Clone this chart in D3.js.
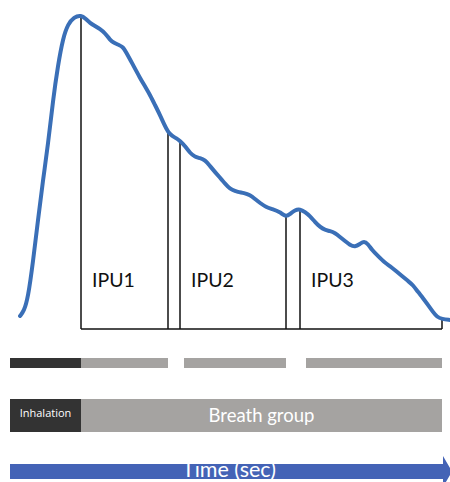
<!DOCTYPE html>
<html><head><meta charset="utf-8">
<script src="https://cdn.jsdelivr.net/npm/d3@7"></script>
<style>html,body{margin:0;padding:0;background:#fff;}svg{display:block;}</style>
</head><body>
<script>
// Time (arbitrary units) and airflow amplitude of the breath curve
const curveTime = [10,14,18,23,28,33,38,43,48,53,58,64,71,76,80,85,90,95,100,104,109,113,116,122,130,136,140,145,150,154,158,162,166,170,175,180,185,190,195,200,205,212,218,222,228,234,240,245,250,256,262,270,276,280,285,290,295,300,305,310,315,320,325,330,335,340,345,350,354,358,362,368,375,380,386,392,398,403,408,413,418,423,427,432,440];
const curveAmp  = [13,18,31,67,109,149,184,229,264,291,305,312,314,310,306,303,300,296,289,286,284,282,277,266,251,241,234,224,214,205,197,193,191,188,183,176,172,171,169,163,157,149,142,139,137,136,134,130,126,122,120,117,112,115,119,120,117,113,107,102,99,98,96,92,88,84,82,85,88,85,79,73,66,63,58,53,48,44,37,31,24,17,12,10,9];
// Segment boundaries (same time units)
const inhalationEnd = 71;
const ipuLabels = ["IPU1","IPU2","IPU3"];
const ipuStart = [71,170,290];
const ipuEnd   = [158,276,432];
const ipuBarStart = [71,174,296];
const breathGroupLabel = "Breath group";
const inhalationLabel = "Inhalation";
const timeLabel = "Time (sec)";

const W = 450, H = 482;
const svg = d3.select("body").append("svg").attr("width", W).attr("height", H);
const x = d3.scaleLinear().domain([0, 440]).range([10, 450]);
const y = d3.scaleLinear().domain([0, 320]).range([329, 9]);

const interp = t => {
  for (let i = 1; i < curveTime.length; i++) {
    if (curveTime[i] >= t) {
      const f = (t - curveTime[i-1]) / (curveTime[i] - curveTime[i-1]);
      return curveAmp[i-1] + f * (curveAmp[i] - curveAmp[i-1]);
    }
  }
  return curveAmp[curveAmp.length-1];
};

// baseline
svg.append("line").attr("x1", x(ipuStart[0])).attr("x2", x(ipuEnd[2]))
  .attr("y1", y(0)).attr("y2", y(0)).attr("stroke", "#111").attr("stroke-width", 1.5);

// vertical boundary lines
const bounds = [];
ipuStart.forEach((s, i) => { bounds.push(s); bounds.push(ipuEnd[i]); });
svg.selectAll("line.b").data(bounds).join("line").attr("class", "b")
  .attr("x1", d => x(d)).attr("x2", d => x(d))
  .attr("y1", y(0)).attr("y2", d => y(interp(d)))
  .attr("stroke", "#111").attr("stroke-width", 1.5);

// IPU labels
svg.selectAll("text.ipu").data(ipuLabels).join("text").attr("class", "ipu")
  .attr("x", (d, i) => x(ipuStart[i]) + 11).attr("y", 287)
  .attr("font-family", "Lato, 'Open Sans', sans-serif").attr("font-size", 19.5)
  .attr("fill", "#111").text(d => d);

// curve
const line = d3.line().x((d, i) => x(curveTime[i])).y(d => y(d)).curve(d3.curveBasis);
svg.append("path").datum(curveAmp).attr("d", line)
  .attr("fill", "none").attr("stroke", "#3a6fb7").attr("stroke-width", 4)
  .attr("stroke-linecap", "round").attr("stroke-linejoin", "round");

// row 1: IPU bars
svg.append("rect").attr("x", x(0)).attr("y", 358).attr("width", x(inhalationEnd) - x(0)).attr("height", 10).attr("fill", "#333333");
svg.selectAll("rect.ipub").data(ipuBarStart).join("rect").attr("class", "ipub")
  .attr("x", d => x(d)).attr("y", 358)
  .attr("width", (d, i) => x(ipuEnd[i]) - x(d)).attr("height", 10).attr("fill", "#a5a3a1");

// row 2: inhalation / breath group
svg.append("rect").attr("x", x(0)).attr("y", 399).attr("width", x(inhalationEnd) - x(0)).attr("height", 33).attr("fill", "#333333");
svg.append("rect").attr("x", x(inhalationEnd)).attr("y", 399).attr("width", x(ipuEnd[2]) - x(inhalationEnd)).attr("height", 33).attr("fill", "#a5a3a1");
svg.append("text").attr("x", (x(0) + x(inhalationEnd)) / 2).attr("y", 417).attr("text-anchor", "middle")
  .attr("font-family", "'Open Sans', sans-serif").attr("font-size", 11).attr("fill", "#fff").text(inhalationLabel);
svg.append("text").attr("x", (x(inhalationEnd) + x(ipuEnd[2])) / 2).attr("y", 422).attr("text-anchor", "middle")
  .attr("font-family", "Lato, 'Open Sans', sans-serif").attr("font-size", 18.5).attr("fill", "#fff").text(breathGroupLabel);

// row 3: time arrow
const ay0 = 464, ay1 = 479, ax0 = x(0), axh = 443, axe = 452;
svg.append("path").attr("d", `M${ax0},${ay0}H${axh}V${ay0-8}L${axe},${(ay0+ay1)/2}L${axh},${ay1+8}V${ay1}H${ax0}Z`)
  .attr("fill", "#4463b6");
svg.append("text").attr("x", 229).attr("y", 477).attr("text-anchor", "middle")
  .attr("font-family", "Lato, 'Open Sans', sans-serif").attr("font-size", 21.5).attr("fill", "#fff").text(timeLabel);
</script>
</body></html>
